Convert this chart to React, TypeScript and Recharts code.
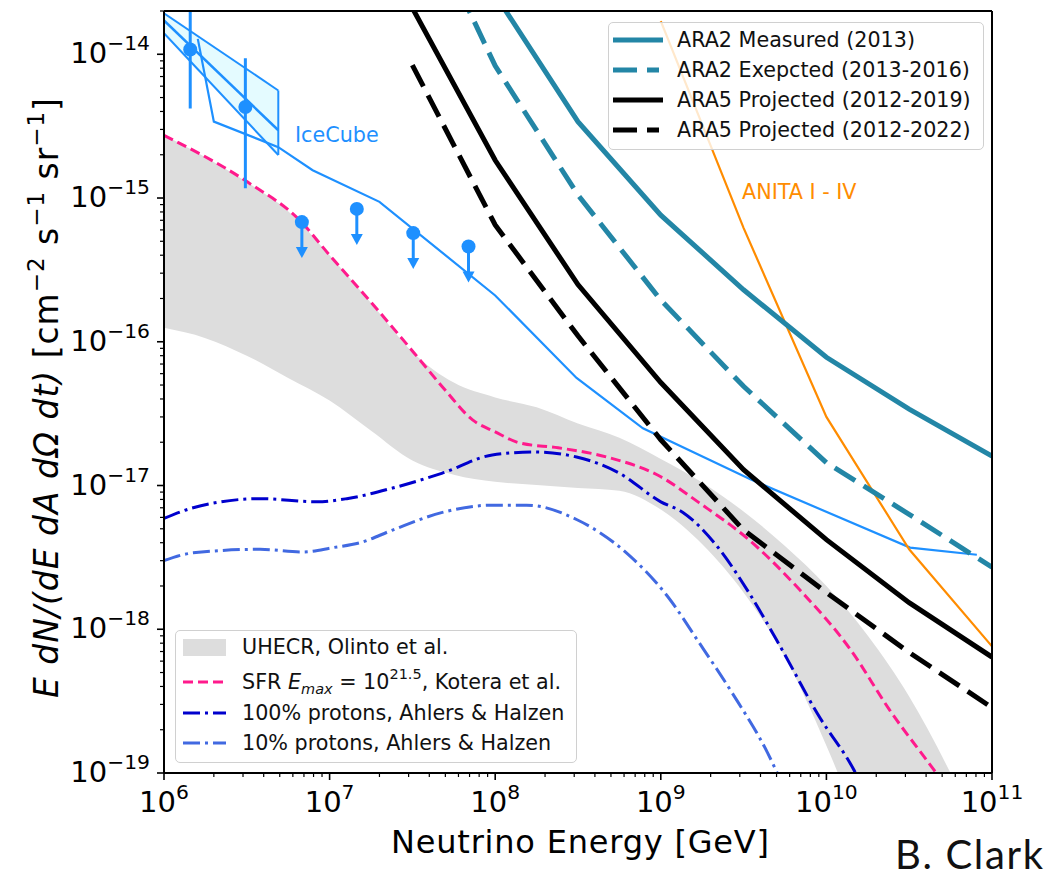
import React from "react";
import {
  ComposedChart,
  Line,
  Area,
  Scatter,
  XAxis,
  YAxis,
  ReferenceLine,
} from "recharts";

// energies in GeV, fluxes E dN/(dE dA dOmega dt) in cm^-2 s^-1 sr^-1
const ara2MeasuredE = [1e8, 3.16e8, 1e9, 3.16e9, 1e10, 3.16e10, 1e11];
const ara2MeasuredF = [2.6e-14, 3.4e-15, 7.6e-16, 2.3e-16, 7.8e-17, 3.4e-17, 1.6e-17];

const ara2ExpectedE = [5e7, 1e8, 3.16e8, 1e9, 3.16e9, 1e10, 3.16e10, 1e11];
const ara2ExpectedF = [4.5e-14, 8.3e-15, 1.05e-15, 1.95e-16, 4.9e-17, 1.44e-17, 6.3e-18, 2.7e-18];

const ara5E = [3.16e7, 1e8, 3.16e8, 1e9, 3.16e9, 1e10, 3.16e10, 1e11];
const ara5F2019 = [2.1e-14, 1.83e-15, 2.5e-16, 5.2e-17, 1.29e-17, 4.2e-18, 1.53e-18, 6.4e-19];
const ara5F2022 = [8.4e-15, 6.5e-16, 1.1e-16, 2.08e-17, 4.9e-18, 1.8e-18, 6.9e-19, 2.85e-19];

const anitaE = [1e9, 3.16e9, 1e10, 3.16e10, 1e11];
const anitaF = [1.7e-14, 6.2e-16, 3.0e-17, 3.6e-18, 7.6e-19];

// IceCube differential limit
const iceLimitE = [1.6e6, 2e6, 4.9e6, 7.9e6, 2e7, 1e8, 3.1e8, 7.8e8, 3.5e9, 3.2e10, 8.1e10];
const iceLimitF = [1.28e-14, 3.4e-15, 2.26e-15, 1.56e-15, 9.4e-16, 2.1e-16, 5.6e-17, 2.5e-17, 1.1e-17, 3.7e-18, 3.3e-18];

// IceCube astrophysical fit (butterfly)
const iceFitE = [1e6, 4.9e6];
const iceFitLo = [1.4e-14, 1.99e-15];
const iceFitMid = [1.72e-14, 2.96e-15];
const iceFitHi = [1.93e-14, 5.6e-15];

// IceCube EHE points
const icePointE = [1.44e6, 3.1e6];
const icePointF = [1.08e-14, 4.3e-15];
const icePointLo = [4.2e-15, 1.17e-15];
const icePointHi = [3e-14, 9.4e-15];
const iceUlE = [6.8e6, 1.46e7, 3.2e7, 6.9e7];
const iceUlF = [6.8e-16, 8.4e-16, 5.7e-16, 4.6e-16];

// SFR Emax = 10^21.5, Kotera et al.
const sfrE = [1e6, 3.2e6, 6.6e6, 1e7, 1.7e7, 3.2e7, 5e7, 7.3e7, 1e8, 1.4e8, 2.4e8, 4.7e8, 1e9, 1.7e9, 3.4e9, 6.9e9, 1.4e10, 2.4e10, 4.6e10, 6.3e10];
const sfrF = [2.73e-15, 1.29e-15, 7.0e-16, 4.0e-16, 2.0e-16, 8.5e-17, 4.6e-17, 2.86e-17, 2.36e-17, 1.98e-17, 1.83e-17, 1.58e-17, 1.15e-17, 7.6e-18, 4.2e-18, 1.88e-18, 7.2e-19, 2.76e-19, 1e-19, 6e-20];

// Ahlers & Halzen
const p100E = [1e6, 1.5e6, 3.8e6, 8.4e6, 1.27e7, 2.4e7, 4.8e7, 9.6e7, 1.7e8, 3.1e8, 5.6e8, 1e9, 1.36e9, 2.2e9, 3.4e9, 5.4e9, 8.8e9, 1.5e10, 1.8e10];
const p100F = [5.9e-18, 7.0e-18, 8.1e-18, 7.7e-18, 8.1e-18, 9.6e-18, 1.22e-17, 1.63e-17, 1.71e-17, 1.58e-17, 1.22e-17, 7.7e-18, 6.5e-18, 3.75e-18, 1.8e-18, 7.2e-19, 2.6e-19, 1e-19, 6.5e-20];
const p10E = [1e6, 1.5e6, 3.8e6, 6.9e6, 1.05e7, 1.53e7, 2.4e7, 4.8e7, 9.6e7, 1.55e8, 3.1e8, 6.2e8, 1.1e9, 1.7e9, 2.7e9, 4.4e9, 5.6e9];
const p10F = [3.0e-18, 3.4e-18, 3.6e-18, 3.45e-18, 3.7e-18, 4.0e-18, 4.9e-18, 6.5e-18, 7.3e-18, 7.3e-18, 5.8e-18, 3.4e-18, 1.69e-18, 8.1e-19, 3.6e-19, 1.39e-19, 7.7e-20];

// UHECR band, Olinto et al.
const uhecrE = [1e6, 1.78e6, 3.16e6, 5.62e6, 1e7, 1.78e7, 3.16e7, 5.62e7, 1e8, 1.78e8, 3.16e8, 5.62e8, 1e9, 1.78e9, 3.16e9, 5.62e9, 1e10, 1.78e10, 3.16e10, 5.62e10, 1e11];
const uhecrHi = [2.73e-15, 1.92e-15, 1.29e-15, 8.1e-16, 4.0e-16, 1.86e-16, 8.5e-17, 5.2e-17, 4.1e-17, 3.5e-17, 2.7e-17, 2.15e-17, 1.53e-17, 1.05e-17, 6.6e-18, 3.8e-18, 2.0e-18, 9.0e-19, 3.4e-19, 1.0e-19, 2.5e-20];
const uhecrLo = [1.25e-16, 1.06e-16, 8.0e-17, 5.6e-17, 3.9e-17, 2.4e-17, 1.49e-17, 1.19e-17, 1.06e-17, 1.01e-17, 9.6e-18, 9.2e-18, 6.8e-18, 3.9e-18, 1.8e-18, 6.4e-19, 1.55e-19, 3e-20, 6e-21, 1.2e-21, 2e-22];

const xMajor = [1e6, 1e7, 1e8, 1e9, 1e10, 1e11];
const yMajor = [1e-19, 1e-18, 1e-17, 1e-16, 1e-15, 1e-14];
const minorSteps = [2, 3, 4, 5, 6, 7, 8, 9];

const TEAL = "#2386a6";
const ICE = "#1e90ff";
const FONT = "'DejaVu Sans', sans-serif";

const pts = (e: number[], f: number[]) => e.map((x, i) => ({ e: x, f: f[i] }));
const withMinors = (major: number[]) => {
  const out: number[] = [];
  major.forEach((m, i) => {
    out.push(m);
    if (i < major.length - 1) minorSteps.forEach((s) => out.push(m * s));
  });
  return out;
};
const xTicks = withMinors(xMajor);
const yTicks = [...withMinors(yMajor), 2e-14];

const uhecrData = uhecrE.map((e, i) => ({ e, r: [uhecrLo[i], uhecrHi[i]] }));
const iceFitData = iceFitE.map((e, i) => ({ e, r: [iceFitLo[i], iceFitHi[i]] }));
const iceFitEdge = [
  { e: iceFitE[1], f: iceFitLo[1] },
  { e: iceFitE[1], f: iceFitHi[1] },
];
const errBars = icePointE.flatMap((e, i) => [
  { e, f: icePointLo[i] },
  { e, f: icePointHi[i] },
  { e, f: null },
]);

const isMajor = (v: number) => {
  const l = Math.log10(v);
  return Math.abs(l - Math.round(l)) < 1e-6;
};

const XTick = (props: any) => {
  const { x, y, payload } = props;
  const major = isMajor(payload.value);
  const exp = Math.round(Math.log10(payload.value));
  return (
    <g>
      <line x1={x} x2={x} y1={y} y2={y + (major ? 7 : 4)} stroke="#000" strokeWidth={major ? 1.6 : 1.2} />
      {major && (
        <text x={x} y={y + 39} textAnchor="middle" fontFamily={FONT} fontSize={29} fill="#000">
          10<tspan dy={-13} fontSize={20.3}>{exp}</tspan>
        </text>
      )}
    </g>
  );
};

const YTick = (props: any) => {
  const { x, y, payload } = props;
  const major = isMajor(payload.value);
  const exp = Math.round(Math.log10(payload.value));
  return (
    <g>
      <line x1={x} x2={x - (major ? 7 : 4)} y1={y} y2={y} stroke="#000" strokeWidth={major ? 1.6 : 1.2} />
      {major && (
        <text x={x - 14} y={y + 9} textAnchor="end" fontFamily={FONT} fontSize={29} fill="#000">
          10<tspan dy={-13} fontSize={20.3}>{"\u2212" + Math.abs(exp)}</tspan>
        </text>
      )}
    </g>
  );
};

const Dot = (props: any) => <circle cx={props.cx} cy={props.cy} r={7} fill={ICE} />;

const UpperLimit = (props: any) => {
  const { cx, cy } = props;
  return (
    <g>
      <line x1={cx} x2={cx} y1={cy} y2={cy + 28} stroke={ICE} strokeWidth={3} />
      <polygon points={`${cx - 6},${cy + 25} ${cx + 6},${cy + 25} ${cx},${cy + 36}`} fill={ICE} />
      <circle cx={cx} cy={cy} r={7} fill={ICE} />
    </g>
  );
};

const Sample = ({ stroke, width, dash, len = 50 }: any) => (
  <svg width={len} height={20} style={{ display: "block", flex: "none" }}>
    <line x1={0} x2={len} y1={10} y2={10} stroke={stroke} strokeWidth={width} strokeDasharray={dash} />
  </svg>
);

const boxStyle: React.CSSProperties = {
  position: "absolute",
  boxSizing: "border-box",
  border: "1.5px solid #d0d0d0",
  borderRadius: 5,
  background: "rgba(255,255,255,0.8)",
  fontFamily: FONT,
  fontSize: 20.7,
  color: "#111",
};

const Row = ({ top, left, gap, children }: any) => (
  <div
    style={{
      position: "absolute",
      top: top - 15,
      left,
      height: 30,
      display: "flex",
      alignItems: "center",
      gap,
      whiteSpace: "nowrap",
    }}
  >
    {children}
  </div>
);

export default function App() {
  return (
    <div style={{ position: "relative", width: 1047, height: 870 }}>
      <ComposedChart width={1039} height={862} margin={{ top: 3, right: 55, bottom: 0, left: 0 }}>
        <XAxis
          dataKey="e"
          type="number"
          scale="log"
          domain={[1e6, 1e11]}
          ticks={xTicks}
          interval={0}
          allowDataOverflow
          tick={<XTick />}
          tickLine={false}
          tickSize={0}
          tickMargin={0}
          height={97}
          axisLine={{ stroke: "#000", strokeWidth: 2 }}
        />
        <YAxis
          type="number"
          scale="log"
          domain={[1e-19, 2e-14]}
          ticks={yTicks}
          interval={0}
          allowDataOverflow
          tick={<YTick />}
          tickLine={false}
          tickSize={0}
          tickMargin={0}
          width={156}
          axisLine={{ stroke: "#000", strokeWidth: 2 }}
        />
        <Area data={uhecrData} dataKey="r" type="monotone" fill="#dddddd" fillOpacity={1} stroke="none" isAnimationActive={false} />
        <Area data={iceFitData} dataKey="r" type="linear" fill="#e4fbff" fillOpacity={1} stroke={ICE} strokeWidth={2} isAnimationActive={false} />
        <Line data={iceFitEdge} dataKey="f" type="linear" stroke={ICE} strokeWidth={2} dot={false} isAnimationActive={false} />
        <Line data={pts(iceFitE, iceFitMid)} dataKey="f" type="linear" stroke={ICE} strokeWidth={2.5} dot={false} isAnimationActive={false} />
        <Line data={pts(p10E, p10F)} dataKey="f" type="monotone" stroke="#4169e1" strokeWidth={3} strokeDasharray="17 5 3 5" dot={false} isAnimationActive={false} />
        <Line data={pts(p100E, p100F)} dataKey="f" type="monotone" stroke="#0000cd" strokeWidth={3} strokeDasharray="17 5 3 5" dot={false} isAnimationActive={false} />
        <Line data={pts(sfrE, sfrF)} dataKey="f" type="monotone" stroke="#ff1a8c" strokeWidth={3} strokeDasharray="10 5" dot={false} isAnimationActive={false} />
        <Line data={pts(iceLimitE, iceLimitF)} dataKey="f" type="linear" stroke={ICE} strokeWidth={2.2} dot={false} isAnimationActive={false} />
        <Line data={errBars} dataKey="f" type="linear" stroke={ICE} strokeWidth={3} dot={false} connectNulls={false} isAnimationActive={false} />
        <Scatter data={pts(icePointE, icePointF)} dataKey="f" shape={<Dot />} isAnimationActive={false} />
        <Scatter data={pts(iceUlE, iceUlF)} dataKey="f" shape={<UpperLimit />} isAnimationActive={false} />
        <Line data={pts(anitaE, anitaF)} dataKey="f" type="linear" stroke="#ff8c00" strokeWidth={2.2} dot={false} isAnimationActive={false} />
        <Line data={pts(ara5E, ara5F2022)} dataKey="f" type="linear" stroke="#000" strokeWidth={5} strokeDasharray="24 10" dot={false} isAnimationActive={false} />
        <Line data={pts(ara5E, ara5F2019)} dataKey="f" type="linear" stroke="#000" strokeWidth={5} dot={false} isAnimationActive={false} />
        <Line data={pts(ara2ExpectedE, ara2ExpectedF)} dataKey="f" type="linear" stroke={TEAL} strokeWidth={5} strokeDasharray="24 10" dot={false} isAnimationActive={false} />
        <Line data={pts(ara2MeasuredE, ara2MeasuredF)} dataKey="f" type="linear" stroke={TEAL} strokeWidth={5} dot={false} isAnimationActive={false} />
        <ReferenceLine y={2e-14} stroke="#000" strokeWidth={2} ifOverflow="visible" />
        <ReferenceLine x={1e11} stroke="#000" strokeWidth={2} ifOverflow="visible" />
      </ComposedChart>

      <svg
        width={1047}
        height={870}
        style={{ position: "absolute", left: 0, top: 0, pointerEvents: "none", overflow: "visible" }}
      >
        <text
          transform="translate(50,390) rotate(-90)"
          textAnchor="middle"
          fontFamily={FONT}
          fontSize={33}
          fill="#000"
          textLength={600}
          lengthAdjust="spacing"
          style={{ whiteSpace: "pre" }}
        >
          <tspan fontStyle="italic">E dN/(dE dA dΩ dt)</tspan>
          <tspan>{" [cm"}</tspan>
          <tspan dy={-14} fontSize={23}>−2</tspan>
          <tspan dy={14}>{" s"}</tspan>
          <tspan dy={-14} fontSize={23}>−1</tspan>
          <tspan dy={14}>{" sr"}</tspan>
          <tspan dy={-14} fontSize={23}>−1</tspan>
          <tspan dy={14}>]</tspan>
        </text>
        <text
          x={572}
          y={845}
          textAnchor="middle"
          fontFamily={FONT}
          fontSize={32}
          fill="#000"
          textLength={378}
          lengthAdjust="spacing"
        >
          Neutrino Energy [GeV]
        </text>
        <text x={287} y={134} fontFamily={FONT} fontSize={20.7} fill={ICE}>
          IceCube
        </text>
        <text x={734} y={191} fontFamily={FONT} fontSize={20.7} fill="#ff8c00">
          ANITA I - IV
        </text>
        <text
          x={887}
          y={861}
          fontFamily="Lato, 'Open Sans', sans-serif"
          fontSize={40}
          fill="#111"
          textLength={148}
          lengthAdjust="spacing"
        >
          B. Clark
        </text>
      </svg>

      <div style={{ ...boxStyle, left: 600, top: 14, width: 376, height: 128 }}>
        <Row top={17} left={4} gap={14}>
          <Sample stroke={TEAL} width={5} />
          <span>ARA2 Measured (2013)</span>
        </Row>
        <Row top={47} left={4} gap={14}>
          <Sample stroke={TEAL} width={5} dash="24 10" len={46} />
          <span style={{ marginLeft: 4 }}>ARA2 Exepcted (2013-2016)</span>
        </Row>
        <Row top={77} left={4} gap={14}>
          <Sample stroke="#000" width={5} />
          <span>ARA5 Projected (2012-2019)</span>
        </Row>
        <Row top={107} left={4} gap={14}>
          <Sample stroke="#000" width={5} dash="24 10" len={46} />
          <span style={{ marginLeft: 4 }}>ARA5 Projected (2012-2022)</span>
        </Row>
      </div>

      <div style={{ ...boxStyle, left: 167, top: 622, width: 402, height: 133 }}>
        <Row top={16} left={7} gap={16}>
          <div style={{ width: 43, height: 17, background: "#dddddd" }} />
          <span>UHECR, Olinto et al.</span>
        </Row>
        <Row top={51} left={7} gap={16}>
          <Sample stroke="#ff1a8c" width={3} dash="10 5" len={43} />
          <span>
            SFR <i>E</i>
            <i style={{ fontSize: "0.7em", position: "relative", top: 5 }}>max</i> = 10
            <span style={{ fontSize: "0.7em", position: "relative", top: -10 }}>21.5</span>, Kotera et al.
          </span>
        </Row>
        <Row top={82} left={7} gap={16}>
          <Sample stroke="#0000cd" width={3} dash="17 5 3 5" len={43} />
          <span>100% protons, Ahlers &amp; Halzen</span>
        </Row>
        <Row top={112} left={7} gap={16}>
          <Sample stroke="#4169e1" width={3} dash="17 5 3 5" len={43} />
          <span>10% protons, Ahlers &amp; Halzen</span>
        </Row>
      </div>
    </div>
  );
}
